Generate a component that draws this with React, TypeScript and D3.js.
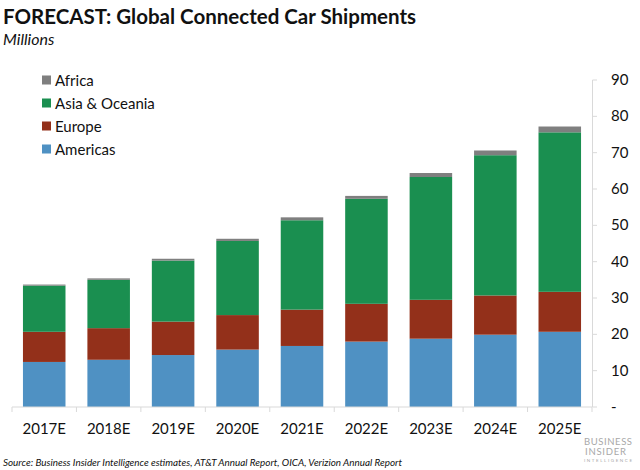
import React from "react";
import * as d3 from "d3";

const years = ["2017E", "2018E", "2019E", "2020E", "2021E", "2022E", "2023E", "2024E", "2025E"];
const americas = [12.4, 13.0, 14.3, 15.8, 16.8, 18.0, 18.8, 19.9, 20.7];
const europe = [8.3, 8.7, 9.2, 9.5, 10.0, 10.4, 10.7, 10.8, 11.0];
const asiaOceania = [12.7, 13.3, 16.8, 20.4, 24.6, 28.9, 33.8, 38.6, 43.9];
const africa = [0.3, 0.4, 0.5, 0.6, 0.8, 0.8, 1.1, 1.3, 1.6];
const yTicks = [0, 10, 20, 30, 40, 50, 60, 70, 80, 90];

const seriesNames = ["Americas", "Europe", "Asia & Oceania", "Africa"];
const seriesColors = ["#4f91c3", "#93301a", "#1a8f50", "#7f7f7f"];
const legendOrder = ["Africa", "Asia & Oceania", "Europe", "Americas"];

const FONT = "Lato, 'Open Sans', sans-serif";

export default function App() {
  const rows = years.map((y, i) => ({
    year: y,
    Americas: americas[i],
    Europe: europe[i],
    "Asia & Oceania": asiaOceania[i],
    Africa: africa[i],
  }));
  const stack = d3.stack<any>().keys(seriesNames)(rows);
  const x = d3.scaleBand().domain(years).range([12, 592]).paddingInner(0.34).paddingOuter(0.17);
  const y = d3.scaleLinear().domain([0, 90]).range([407, 80]);
  const color = d3.scaleOrdinal<string, string>().domain(seriesNames).range(seriesColors);
  const step = x.step();
  const axisColor = "#d9d9d9";

  return (
    <svg width={640} height={470} style={{ position: "absolute", left: 0, top: 0, background: "#fff" }} fontFamily={FONT}>
      <text x={3} y={24} fontSize={20.5} fontWeight={700} fill="#111">FORECAST: Global Connected Car Shipments</text>
      <text x={3} y={45} fontSize={16} fontStyle="italic" fill="#111">Millions</text>

      {legendOrder.map((name, i) => (
        <g key={name} transform={`translate(42, ${80 + i * 23})`}>
          <rect x={0} y={-4.5} width={9} height={9} fill={color(name)} />
          <text x={13} y={5.5} fontSize={15} fill="#111">{name}</text>
        </g>
      ))}

      {stack.map((s) => (
        <g key={s.key} fill={color(s.key)}>
          {s.map((d, i) => (
            <rect key={i} x={x(years[i])} width={x.bandwidth()} y={y(d[1])} height={y(d[0]) - y(d[1])} />
          ))}
        </g>
      ))}

      <line x1={12} x2={592} y1={y(0)} y2={y(0)} stroke={axisColor} />
      {d3.range(years.length + 1).map((i) => (
        <line key={i} x1={12 + i * step} x2={12 + i * step} y1={y(0)} y2={y(0) + 5} stroke={axisColor} />
      ))}
      {years.map((yr) => (
        <text key={yr} x={(x(yr) as number) + x.bandwidth() / 2} y={434} fontSize={15} textAnchor="middle" fill="#111">{yr}</text>
      ))}

      <line x1={592.5} x2={592.5} y1={y(90)} y2={y(0)} stroke={axisColor} />
      {yTicks.map((t) => (
        <g key={t}>
          <line x1={592.5} x2={597} y1={y(t)} y2={y(t)} stroke={axisColor} />
          <text x={611} y={y(t) + 5} fontSize={15} fill="#111">{t === 0 ? "-" : t}</text>
        </g>
      ))}

      <text x={3} y={466} fontSize={10} fontStyle="italic" fill="#111" textLength={399} lengthAdjust="spacingAndGlyphs">Source: Business Insider Intelligence estimates, AT&amp;T Annual Report, OICA, Verizion Annual Report</text>

      <g fill="#a8a8a8">
        <text x={584} y={445} fontSize={9.5} textLength={48} lengthAdjust="spacing">BUSINESS</text>
        <text x={585} y={455} fontSize={9.5} textLength={41} lengthAdjust="spacing">INSIDER</text>
        <text x={584} y={462} fontSize={4.5} textLength={48} lengthAdjust="spacing">INTELLIGENCE</text>
      </g>
    </svg>
  );
}
